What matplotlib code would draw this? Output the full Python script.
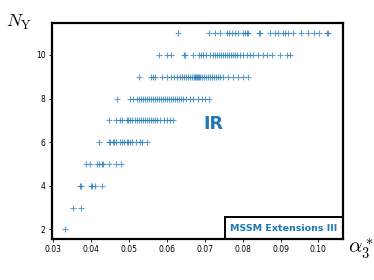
import numpy as np
import matplotlib.pyplot as plt
from matplotlib.patches import Rectangle

plt.rcParams['mathtext.fontset'] = 'cm'

# alpha_3^* values, one list per N_Y row
row_11 = [0.0628, 0.0712, 0.0726, 0.0741, 0.0758, 0.0764, 0.0772, 0.0780, 0.0788,
          0.0801, 0.0807, 0.0811, 0.0815, 0.0844, 0.0846, 0.0871, 0.0886, 0.0894,
          0.0906, 0.0912, 0.0921, 0.0932, 0.0954, 0.0972, 0.0989, 0.1003, 0.1022, 0.1026]
row_10 = [0.0580, 0.0600, 0.0611, 0.0644, 0.0648, 0.0669, 0.0685, 0.0691, 0.0696,
          0.0704, 0.0714, 0.0722, 0.0727, 0.0733, 0.0738, 0.0743, 0.0749, 0.0754,
          0.0759, 0.0764, 0.0770, 0.0775, 0.0780, 0.0785, 0.0793, 0.0801, 0.0812,
          0.0820, 0.0828, 0.0841, 0.0854, 0.0864, 0.0877, 0.0899, 0.0917, 0.0925]
row_9 = [0.0525, 0.0558, 0.0564, 0.0569, 0.0587, 0.0600, 0.0611, 0.0619, 0.0627,
         0.0635, 0.0640, 0.0646, 0.0651, 0.0656, 0.0661, 0.0667, 0.0672, 0.0675,
         0.0677, 0.0680, 0.0683, 0.0685, 0.0688, 0.0693, 0.0698, 0.0704, 0.0709,
         0.0714, 0.0720, 0.0725, 0.0730, 0.0735, 0.0741, 0.0749, 0.0762, 0.0775,
         0.0788, 0.0801, 0.0815]
row_8 = [0.0468, 0.0503, 0.0511, 0.0521, 0.0527, 0.0532, 0.0537, 0.0543, 0.0548,
         0.0553, 0.0559, 0.0564, 0.0569, 0.0574, 0.0580, 0.0585, 0.0590, 0.0596,
         0.0601, 0.0606, 0.0611, 0.0617, 0.0622, 0.0627, 0.0632, 0.0638, 0.0643,
         0.0651, 0.0661, 0.0670, 0.0681, 0.0692, 0.0701, 0.0710]
row_7 = [0.0446, 0.0466, 0.0475, 0.0481, 0.0493, 0.0498, 0.0503, 0.0508, 0.0516,
         0.0522, 0.0527, 0.0532, 0.0537, 0.0543, 0.0548, 0.0553, 0.0559, 0.0564,
         0.0569, 0.0574, 0.0582, 0.0591, 0.0600, 0.0609, 0.0617]
row_6 = [0.0420, 0.0446, 0.0450, 0.0456, 0.0461, 0.0466, 0.0477, 0.0482, 0.0487,
         0.0493, 0.0498, 0.0503, 0.0508, 0.0519, 0.0528, 0.0534, 0.0547]
row_5 = [0.0387, 0.0396, 0.0416, 0.0421, 0.0427, 0.0432, 0.0446, 0.0464, 0.0479]
row_4 = [0.0371, 0.0372, 0.0398, 0.0403, 0.0411, 0.0429]
row_3 = [0.0352, 0.0373]
row_2 = [0.0330]

rows = {11: row_11, 10: row_10, 9: row_9, 8: row_8, 7: row_7,
        6: row_6, 5: row_5, 4: row_4, 3: row_3, 2: row_2}

fig = plt.figure(figsize=(3.74, 2.8), dpi=100)
ax = fig.add_axes([0.139, 0.146, 0.778, 0.772])

for n, xs in rows.items():
    ax.plot(xs, [n] * len(xs), '+', color='#1f77b4', ms=4, mew=0.8, alpha=0.7)

ax.set_xlim(0.0296, 0.1065)
ax.set_ylim(1.55, 11.47)
ax.set_xticks([0.03, 0.04, 0.05, 0.06, 0.07, 0.08, 0.09, 0.10])
ax.set_xticklabels(['0.03', '0.04', '0.05', '0.06', '0.07', '0.08', '0.09', '0.10'])
ax.set_yticks([2, 4, 6, 8, 10])
ax.tick_params(labelsize=5.5, length=2.5, width=0.6, pad=2)
for sp in ax.spines.values():
    sp.set_linewidth(1.6)

fig.text(0.015, 0.92, r'$N_{\rm Y}$', fontsize=13, ha='left', va='center')
fig.text(0.93, 0.11, r'$\alpha_3^*$', fontsize=15, ha='left', va='center')

ax.text(0.553, 0.532, 'IR', transform=ax.transAxes, fontsize=12.5, fontweight='bold',
        color='#1f77b4', ha='center', va='center')

ax.add_patch(Rectangle((0.594, 0.0), 0.406, 0.102, transform=ax.transAxes,
                       fill=False, edgecolor='black', linewidth=1.4, clip_on=False))
ax.text(0.797, 0.048, 'MSSM Extensions III', transform=ax.transAxes, fontsize=6.8,
        fontweight='bold', color='#1f77b4', ha='center', va='center')

fig.savefig('out.png', dpi=100)
